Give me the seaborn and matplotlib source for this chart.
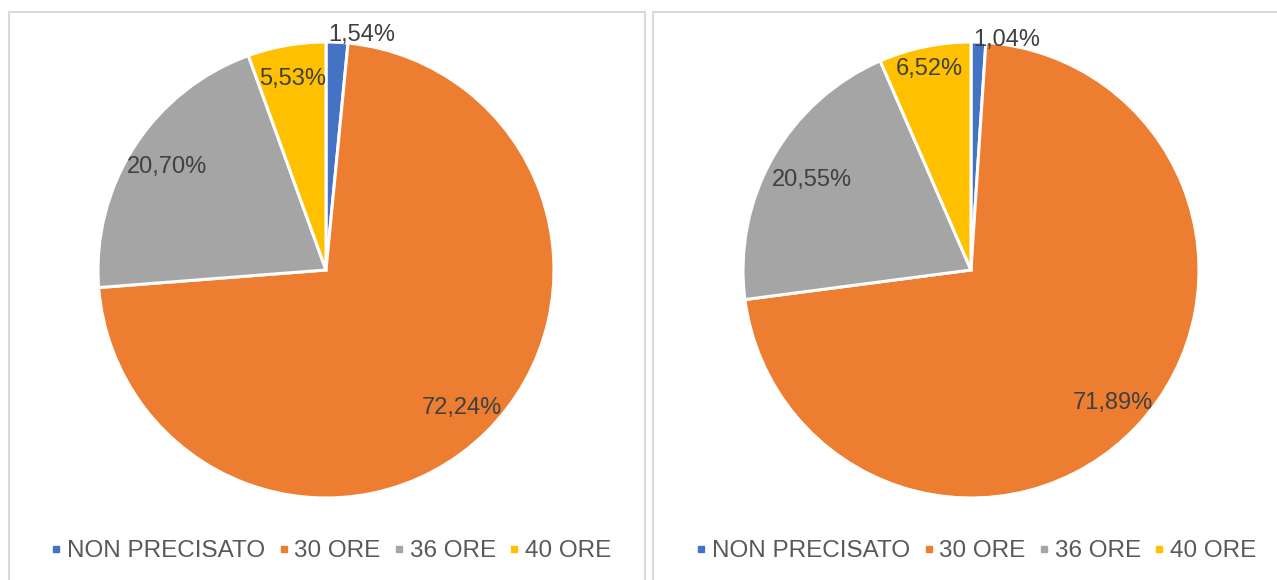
import numpy as np
import matplotlib
matplotlib.use("Agg")
import matplotlib.pyplot as plt
import seaborn as sns
from matplotlib.patches import Rectangle
from matplotlib.lines import Line2D

sns.set_theme(style="white")
plt.rcParams['font.family'] = ['Liberation Sans', 'DejaVu Sans']

categories = ['NON PRECISATO', '30 ORE', '36 ORE', '40 ORE']
left_values = [1.54, 72.24, 20.70, 5.53]
right_values = [1.04, 71.89, 20.55, 6.52]
colors = ['#4472C4', '#ED7D31', '#A5A5A5', '#FFC000']
label_color = '#404040'
legend_color = '#595959'

W, H = 1277, 580
fig = plt.figure(figsize=(W / 100, H / 100), dpi=100)

# panel borders
for x0, x1 in [(9, 645), (653, 1290)]:
    fig.add_artist(Rectangle((x0 / W, -0.05), (x1 - x0) / W, 1.05 - 12 / H,
                             transform=fig.transFigure, fill=False,
                             edgecolor='#D9D9D9', linewidth=1.5))


def draw_pie(cx, values, dists):
    r = 228
    ax = fig.add_axes([(cx - r) / W, (H - 270 - r) / H, 2 * r / W, 2 * r / H])
    wedges, _ = ax.pie(values, colors=colors, startangle=90, counterclock=False,
                       wedgeprops=dict(edgecolor='white', linewidth=2.2))
    for w, v, d in zip(wedges, values, dists):
        ang = np.deg2rad((w.theta1 + w.theta2) / 2)
        txt = f"{v:.2f}%".replace('.', ',')
        if v < 3:
            # tiny slice: label sits outside, just right of the top
            ax.text(0.01, d * np.sin(ang), txt, ha='left', va='center',
                    fontsize=17, color=label_color)
        else:
            ax.text(d * np.cos(ang), d * np.sin(ang), txt, ha='center',
                    va='center', fontsize=17, color=label_color)
    ax.set_xlim(-1, 1)
    ax.set_ylim(-1, 1)
    ax.set_aspect('equal')
    handles = [Line2D([], [], marker='s', linestyle='none', markersize=4.6,
                      markerfacecolor=c, markeredgecolor=c) for c in colors]
    leg = fig.legend(handles, categories, loc='center', ncol=4,
                     bbox_to_anchor=((cx + 6) / W, 1 - 551 / H), frameon=False,
                     fontsize=17.5, handletextpad=0.3, columnspacing=0.6,
                     handlelength=0.3, borderpad=0, borderaxespad=0)
    for t in leg.get_texts():
        t.set_color(legend_color)


draw_pie(326, left_values, [1.03, 0.85, 0.83, 0.85])
draw_pie(971, right_values, [1.01, 0.85, 0.80, 0.90])

fig.savefig('out.png', dpi=100)
